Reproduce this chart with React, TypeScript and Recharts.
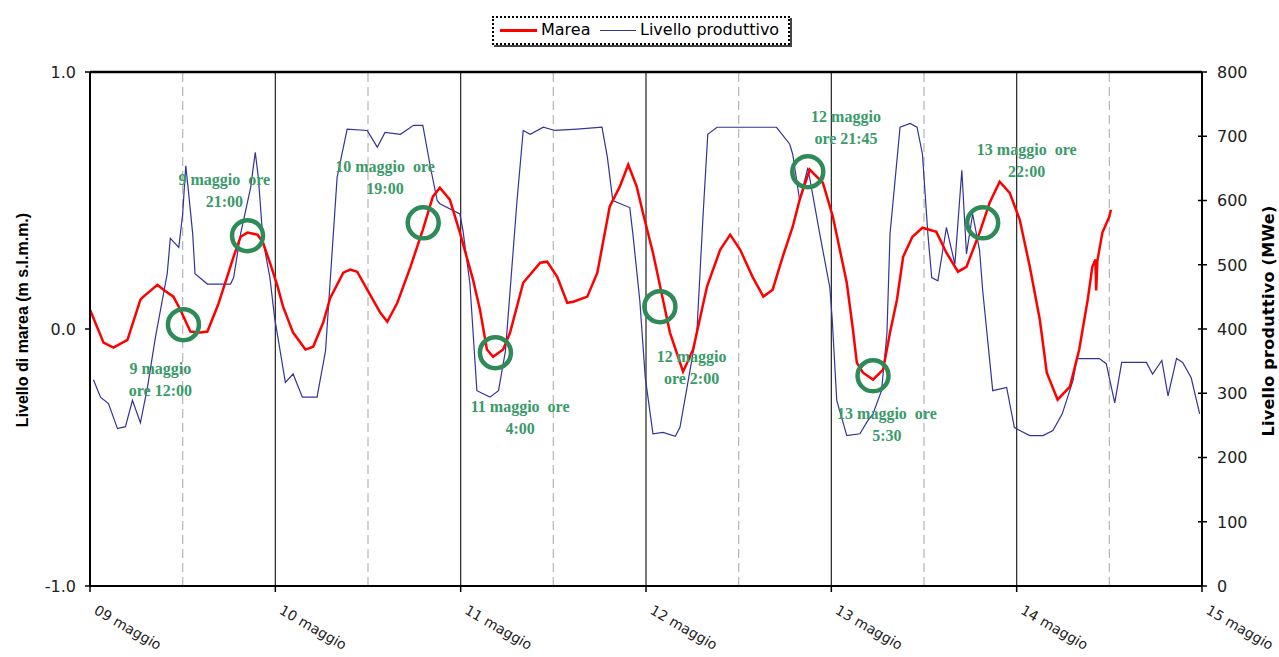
import React from 'react';
import { LineChart, Line, XAxis, YAxis, ReferenceLine, ReferenceDot } from 'recharts';

// ---- categories / ticks ----
const DAY_TICKS = [0, 24, 48, 72, 96, 120, 144];
const DAY_LABELS = ['09 maggio', '10 maggio', '11 maggio', '12 maggio', '13 maggio', '14 maggio', '15 maggio'];
const DAY_LINES = [24, 48, 72, 96, 120];
const MIDDAY_LINES = [12, 36, 60, 84, 108, 132];
const LEFT_TICKS = [-1, 0, 1];
const RIGHT_TICKS = [0, 100, 200, 300, 400, 500, 600, 700, 800];

// ---- Marea (hours since 09 maggio 00:00, metres) ----
const mareaHours = [0, 1.75, 3.04, 4.85, 6.53, 6.92, 8.73, 9.51, 10.8, 11.7, 13.0, 14.3, 15.2, 16.6, 18.6, 19.5, 20.4, 21.7, 22.4, 23.3, 24.3, 25.0, 26.3, 27.9, 28.9, 30.2, 31.1, 32.8, 33.7, 34.6, 35.9, 37.6, 38.5, 39.8, 41.5, 43.1, 44.4, 45.3, 46.6, 47.9, 49.6, 50.5, 51.4, 52.2, 53.5, 54.4, 56.1, 58.3, 59.2, 60.5, 61.8, 62.6, 64.4, 65.7, 67.3, 68.6, 69.7, 70.8, 71.6, 72.9, 74.2, 75.1, 76.8, 78.1, 79.9, 81.6, 82.9, 84.2, 85.8, 87.2, 88.4, 89.7, 91.0, 91.9, 93.2, 94.9, 96.2, 98.0, 98.8, 99.3, 100.1, 101.4, 102.7, 103.6, 104.5, 105.3, 106.5, 107.8, 109.6, 110.9, 112.4, 113.5, 115.2, 116.5, 117.8, 119.1, 120.4, 121.7, 123.0, 123.9, 125.3, 126.9, 128.1, 129.2, 129.8, 130.2, 130.3, 130.45, 131.1, 132.0, 132.2];
const mareaValues = [0.075, -0.053, -0.072, -0.042, 0.114, 0.126, 0.172, 0.153, 0.126, 0.075, -0.01, -0.014, -0.01, 0.095, 0.282, 0.359, 0.375, 0.367, 0.336, 0.258, 0.165, 0.087, -0.014, -0.08, -0.069, 0.025, 0.12, 0.219, 0.231, 0.223, 0.153, 0.063, 0.028, 0.102, 0.242, 0.386, 0.515, 0.55, 0.503, 0.375, 0.192, 0.075, -0.08, -0.108, -0.08, -0.014, 0.18, 0.258, 0.262, 0.203, 0.102, 0.106, 0.126, 0.219, 0.476, 0.554, 0.639, 0.554, 0.452, 0.297, 0.114, -0.014, -0.166, -0.08, 0.165, 0.308, 0.367, 0.308, 0.203, 0.126, 0.153, 0.281, 0.398, 0.503, 0.62, 0.569, 0.437, 0.18, -0.003, -0.131, -0.17, -0.197, -0.158, -0.014, 0.114, 0.281, 0.359, 0.394, 0.378, 0.297, 0.223, 0.242, 0.375, 0.491, 0.573, 0.53, 0.425, 0.242, 0.036, -0.17, -0.275, -0.224, -0.08, 0.114, 0.242, 0.27, 0.15, 0.265, 0.375, 0.437, 0.464];

// ---- Livello produttivo (hours, MWe) ----
const livelloHours = [0.45, 1.36, 2.39, 3.56, 4.59, 5.5, 6.53, 7.44, 8.47, 10.0, 10.4, 11.5, 12.0, 12.4, 12.7, 13.3, 13.6, 15.2, 18.2, 18.6, 19.5, 20.8, 21.4, 21.8, 22.4, 23.3, 23.9, 25.3, 26.3, 27.5, 29.4, 30.5, 32.0, 33.3, 35.9, 37.2, 38.2, 40.2, 41.9, 43.1, 44.1, 44.96, 45.3, 47.9, 48.3, 49.2, 50.1, 51.8, 52.9, 53.8, 55.3, 56.1, 57.0, 58.7, 60.2, 63.1, 66.3, 67.0, 67.7, 69.9, 70.3, 71.2, 71.9, 72.9, 74.2, 75.8, 76.4, 77.4, 78.6, 79.4, 80.0, 81.2, 88.9, 90.6, 91.0, 91.9, 92.96, 94.5, 95.8, 96.1, 96.7, 98.0, 99.7, 100.7, 101.4, 102.5, 103.2, 103.6, 104.9, 106.2, 107.1, 107.8, 108.5, 109.0, 109.8, 110.9, 112.0, 112.9, 113.5, 114.3, 115.2, 115.6, 116.9, 118.7, 119.7, 120.4, 121.7, 123.4, 124.7, 125.9, 127.3, 127.8, 130.7, 131.6, 132.7, 133.6, 136.8, 137.6, 138.8, 139.6, 140.7, 141.5, 142.6, 143.7];
const livelloValues = [321, 294, 284, 245, 248, 289, 254, 309, 387, 486, 541, 527, 579, 654, 620, 548, 486, 470, 470, 480, 548, 620, 675, 636, 538, 480, 418, 317, 330, 294, 294, 366, 636, 711, 709, 683, 706, 703, 717, 717, 651, 600, 595, 579, 553, 470, 304, 294, 304, 366, 600, 709, 703, 714, 709, 711, 714, 667, 600, 589, 548, 444, 325, 237, 239, 233, 247, 315, 398, 579, 703, 714, 714, 688, 672, 600, 651, 548, 465, 418, 289, 234, 237, 257, 268, 304, 393, 548, 714, 720, 714, 672, 548, 480, 475, 558, 501, 647, 517, 579, 522, 460, 304, 309, 247, 242, 234, 234, 242, 268, 320, 354, 354, 346, 285, 348, 348, 330, 351, 296, 354, 348, 324, 268];

// ---- annotations (green circles + notes) ----
const noteCircleHours = [12.1, 20.4, 43.15, 52.5, 73.8, 92.95, 101.4, 115.6];
const noteCircleLevels = [0.017, 0.363, 0.413, -0.092, 0.087, 0.612, -0.182, 0.413];
const noteTextHours = [9.12, 17.4, 38.2, 55.7, 77.9, 97.9, 103.2, 121.3];
const noteTextLevels = [-0.154, 0.581, 0.631, -0.302, -0.108, 0.826, -0.329, 0.697];
const noteLine1 = ['9 maggio', '9 maggio  ore', '10 maggio  ore', '11 maggio  ore', '12 maggio', '12 maggio', '13 maggio  ore', '13 maggio  ore'];
const noteLine2 = ['ore 12:00', '21:00', '19:00', '4:00', 'ore 2:00', 'ore 21:45', '5:30', '22:00'];

const mareaData = mareaHours.map((h, i) => ({ h, m: mareaValues[i] }));
const livelloData = livelloHours.map((h, i) => ({ h, p: livelloValues[i] }));

const SANS = '"DejaVu Sans", Verdana, sans-serif';
const SERIF = '"Liberation Serif", "Times New Roman", serif';
const GREEN_TEXT = '#3A9A68';
const GREEN_RING = '#2E8B57';

const XTick = (props: any) => {
  const { x, y, payload } = props;
  const idx = DAY_TICKS.indexOf(payload.value);
  const tx = x + 3;
  const ty = y + 19;
  return (
    <text x={tx} y={ty} transform={`rotate(30 ${tx} ${ty})`} textAnchor="start" fontFamily={SANS} fontSize={14} fill="#222">
      {DAY_LABELS[idx]}
    </text>
  );
};

const RightTick = (props: any) => {
  const { x, y, payload } = props;
  return (
    <g>
      <line x1={x - 18} x2={x - 9} y1={y} y2={y} stroke="#000" strokeWidth={1.5} />
      <text x={x + 1} y={y} dy="0.36em" textAnchor="start" fontFamily={SANS} fontSize={16} fill="#222">
        {payload.value}
      </text>
    </g>
  );
};

const leftTitle = () => (
  <text x={28} y={320} transform="rotate(-90 28 320)" textAnchor="middle" fontFamily='"Liberation Sans", Arial, sans-serif' fontWeight="bold" fontSize={16} fill="#000">
    Livello di marea (m s.l.m.m.)
  </text>
);

const rightTitle = () => (
  <text x={1274} y={321} transform="rotate(-90 1274 321)" textAnchor="middle" fontFamily={SANS} fontWeight="bold" fontSize={16} letterSpacing={0.3} fill="#000">
    Livello produttivo (MWe)
  </text>
);

export default function App() {
  return (
    <div style={{ position: 'absolute', left: 0, top: 0, width: 1279, height: 657, background: '#fff' }}>
      <LineChart width={1279} height={657} margin={{ top: 72, right: 0, bottom: 0, left: 0 }}>
        <XAxis
          dataKey="h"
          type="number"
          domain={[0, 144]}
          ticks={DAY_TICKS}
          interval={0}
          height={71}
          axisLine={{ stroke: '#000', strokeWidth: 2 }}
          tickLine={{ stroke: '#000', strokeWidth: 1.5 }}
          tickSize={6}
          tick={<XTick />}
          allowDataOverflow
        />
        <YAxis
          yAxisId="left"
          domain={[-1, 1]}
          ticks={LEFT_TICKS}
          interval={0}
          width={90}
          tickFormatter={(v: number) => v.toFixed(1)}
          axisLine={{ stroke: '#000', strokeWidth: 2 }}
          tickLine={{ stroke: '#000', strokeWidth: 1.5 }}
          tickSize={5}
          tickMargin={9}
          tick={{ fontFamily: SANS, fontSize: 16, fill: '#222' }}
          label={leftTitle}
        />
        <YAxis
          yAxisId="right"
          orientation="right"
          domain={[0, 800]}
          ticks={RIGHT_TICKS}
          interval={0}
          width={77}
          axisLine={{ stroke: '#000', strokeWidth: 2 }}
          tickLine={false}
          tickSize={5}
          tickMargin={9}
          tick={<RightTick />}
          label={rightTitle}
        />
        {MIDDAY_LINES.map((v) => (
          <ReferenceLine key={'md' + v} x={v} yAxisId="left" stroke="#b4b4b4" strokeWidth={1.2} strokeDasharray="9 5" />
        ))}
        {DAY_LINES.map((v) => (
          <ReferenceLine key={'d' + v} x={v} yAxisId="left" stroke="#222" strokeWidth={1.2} />
        ))}
        <ReferenceLine y={1} yAxisId="left" stroke="#000" strokeWidth={2.5} />
        <Line
          yAxisId="right"
          data={livelloData}
          dataKey="p"
          type="linear"
          stroke="#333399"
          strokeWidth={1.2}
          dot={false}
          activeDot={false}
          isAnimationActive={false}
        />
        <Line
          yAxisId="left"
          data={mareaData}
          dataKey="m"
          type="linear"
          stroke="#FF0000"
          strokeWidth={2.5}
          dot={false}
          activeDot={false}
          isAnimationActive={false}
        />
        {noteCircleHours.map((h, i) => (
          <ReferenceDot
            key={'c' + i}
            x={h}
            y={noteCircleLevels[i]}
            yAxisId="left"
            r={15.5}
            fill="none"
            stroke={GREEN_RING}
            strokeWidth={4.5}
          />
        ))}
        {noteTextHours.map((h, i) => (
          <ReferenceDot
            key={'t' + i}
            x={h}
            y={noteTextLevels[i]}
            yAxisId="left"
            r={1}
            shape={(p: any) => (
              <text
                x={p.cx}
                y={p.cy + 5}
                textAnchor="middle"
                fontFamily={SERIF}
                fontWeight="bold"
                fontSize={16}
                fill={GREEN_TEXT}
                style={{ whiteSpace: 'pre' }}
              >
                <tspan x={p.cx}>{noteLine1[i]}</tspan>
                <tspan x={p.cx} dy={22}>{noteLine2[i]}</tspan>
              </text>
            )}
          />
        ))}
      </LineChart>
      <div
        style={{
          position: 'absolute',
          left: 492,
          top: 16,
          width: 294,
          height: 25,
          border: '2px dotted #000',
          boxShadow: '2px 2px 0 #444',
          background: '#fff',
          fontFamily: SANS,
          fontSize: 16,
          color: '#000',
        }}
      >
        <div style={{ position: 'absolute', left: 6, top: 11, width: 37, height: 3, background: '#FF0000' }} />
        <span style={{ position: 'absolute', left: 47, top: 2, lineHeight: '19px' }}>Marea</span>
        <div style={{ position: 'absolute', left: 106, top: 12, width: 36, height: 1, background: '#333399' }} />
        <span style={{ position: 'absolute', left: 146, top: 2, lineHeight: '19px' }}>Livello produttivo</span>
      </div>
    </div>
  );
}
